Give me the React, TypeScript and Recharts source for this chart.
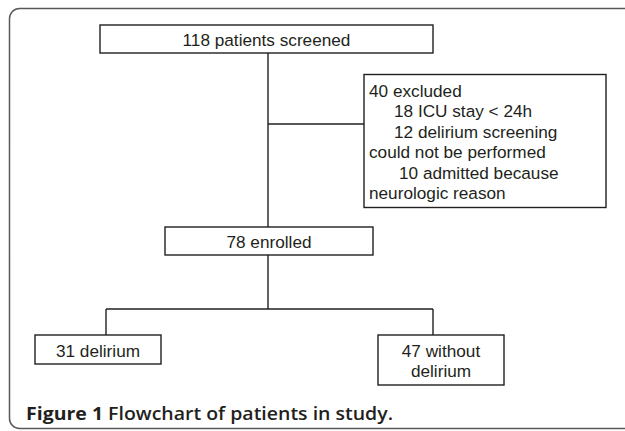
import React from 'react'
import { ScatterChart, Scatter, XAxis, YAxis, ReferenceLine } from 'recharts'

// flow counts and labels
const stageCounts = [118, 40, 78, 31, 47]
const stageLabels = ['patients screened', 'excluded', 'enrolled', 'delirium', 'without\ndelirium']
const exclusionCounts = [18, 12, 10]
const exclusionReasons = ['ICU stay < 24h', 'delirium screening\ncould not be performed', 'admitted because\nneurologic reason']
const captionLead = 'Figure 1'
const captionText = 'Flowchart of patients in study.'

const W = 625
const H = 431
const INK = '#231f20'
const FONT = '"Liberation Sans", Arial, Helvetica, sans-serif'

// box geometry in chart units (axes map 1:1 to pixels)
const boxLayout = [
  { cx: 266.5, cy: 39, w: 333, h: 28, align: 'center' },
  { cx: 485, cy: 141, w: 242, h: 133, align: 'left' },
  { cx: 269, cy: 241, w: 208, h: 28, align: 'center' },
  { cx: 98, cy: 349.5, w: 126, h: 29, align: 'center' },
  { cx: 441, cy: 360, w: 126, h: 50, align: 'center' },
]
const reasonIndent = [25, 25, 30]
const LINE_H = 20.5

type Line = { text: string; indent: number }

const buildLines = (i: number): Line[] => {
  const head = `${stageCounts[i]} ${stageLabels[i]}`.split('\n')
  const lines: Line[] = head.map((t) => ({ text: t, indent: 0 }))
  if (i === 1) {
    exclusionReasons.forEach((r, k) => {
      r.split('\n').forEach((t, j) => {
        lines.push({ text: j === 0 ? `${exclusionCounts[k]} ${t}` : t, indent: j === 0 ? reasonIndent[k] : 0 })
      })
    })
  }
  return lines
}

const boxes = boxLayout.map((b, i) => ({ x: b.cx, y: b.cy, ...b, lines: buildLines(i) }))

const top = (i: number) => boxLayout[i].cy - boxLayout[i].h / 2
const bottom = (i: number) => boxLayout[i].cy + boxLayout[i].h / 2
const left = (i: number) => boxLayout[i].cx - boxLayout[i].w / 2

const trunkX = 268
const splitY = 309
const branchX = [106, 433]

const connectors = [
  [{ x: trunkX, y: bottom(0) }, { x: trunkX, y: top(2) }],
  [{ x: trunkX, y: 124 }, { x: left(1), y: 124 }],
  [{ x: trunkX, y: bottom(2) }, { x: trunkX, y: splitY }],
  [{ x: branchX[0], y: splitY }, { x: branchX[1], y: splitY }],
  [{ x: branchX[0], y: splitY }, { x: branchX[0], y: top(3) }],
  [{ x: branchX[1], y: splitY }, { x: branchX[1], y: top(4) }],
]

const FlowBox = (props: any) => {
  const { cx, cy, payload } = props
  const { w, h, align, lines } = payload
  const x0 = cx - w / 2
  const y0 = cy - h / 2
  const n = lines.length
  const firstBase = cy - ((n - 1) * LINE_H) / 2 + 7.2
  return (
    <g>
      <rect x={x0} y={y0} width={w} height={h} fill="#fff" stroke={INK} strokeWidth={1.4} />
      {lines.map((l: Line, k: number) => (
        <text
          key={k}
          x={align === 'center' ? cx : x0 + 5 + l.indent}
          y={firstBase + k * LINE_H}
          textAnchor={align === 'center' ? 'middle' : 'start'}
          fontFamily={FONT}
          fontSize={17.2}
          fill={INK}
        >
          {l.text}
        </text>
      ))}
    </g>
  )
}

export default function App() {
  return (
    <div style={{ position: 'absolute', left: 0, top: 0, width: W, height: H, overflow: 'hidden', background: '#fff' }}>
      <svg width={W} height={H} style={{ position: 'absolute', left: 0, top: 0 }}>
        <rect x={9.5} y={8.5} width={700} height={420} rx={10} ry={10} fill="none" stroke="#58595b" strokeWidth={1.5} />
        <text
          x={26}
          y={420}
          fontFamily='"Open Sans", sans-serif'
          fontSize={18}
          fill={INK}
          textLength={367}
          lengthAdjust="spacingAndGlyphs"
        >
          <tspan fontWeight={700}>{captionLead}</tspan>
          <tspan fontWeight={600}>{' ' + captionText}</tspan>
        </text>
      </svg>
      <div style={{ position: 'absolute', left: 0, top: 0 }}>
        <ScatterChart width={W} height={H} margin={{ top: 0, right: 0, bottom: 0, left: 0 }}>
          <XAxis type="number" dataKey="x" domain={[0, W]} hide allowDataOverflow />
          <YAxis type="number" dataKey="y" domain={[0, H]} reversed hide allowDataOverflow />
          {connectors.map((seg, i) => (
            <ReferenceLine key={i} segment={seg} stroke={INK} strokeWidth={1.4} ifOverflow="visible" />
          ))}
          <Scatter data={boxes} shape={<FlowBox />} isAnimationActive={false} />
        </ScatterChart>
      </div>
    </div>
  )
}
